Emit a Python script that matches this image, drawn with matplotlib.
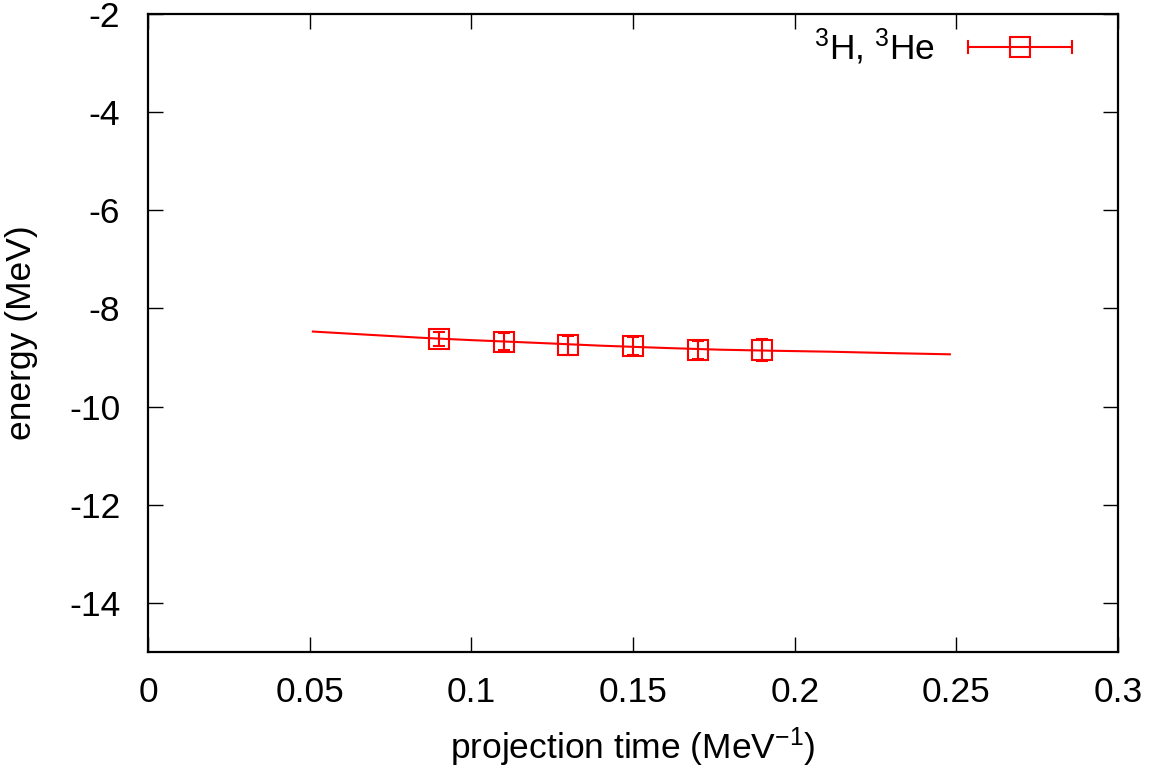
import numpy as np
import matplotlib
matplotlib.use('Agg')
import matplotlib.pyplot as plt

plt.rcParams['font.family'] = ['Liberation Sans', 'DejaVu Sans']
plt.rcParams['mathtext.default'] = 'regular'
plt.rcParams['axes.unicode_minus'] = False

# data points
tau = [0.09, 0.11, 0.13, 0.15, 0.17, 0.19]
energy = [-8.62, -8.68, -8.75, -8.77, -8.85, -8.85]
energy_err = [0.14, 0.17, 0.19, 0.18, 0.18, 0.23]

# fit curve
fit_tau = [0.051, 0.068, 0.084, 0.10, 0.12, 0.14, 0.16, 0.177, 0.194, 0.211, 0.23, 0.248]
fit_energy = [-8.47, -8.535, -8.595, -8.645, -8.70, -8.758, -8.805, -8.84, -8.862, -8.881, -8.91, -8.934]

red = '#ff0000'
fs = 25.5

fig = plt.figure(figsize=(11.5, 7.73), dpi=100)
ax = fig.add_axes([0.1287, 0.1565, 0.8435, 0.8254])

ax.plot(fit_tau, fit_energy, color=red, lw=1.5)
ax.errorbar(tau, energy, yerr=energy_err, fmt='s', color=red, mfc='none',
            mec=red, ms=15, mew=1.5, elinewidth=1.5, capsize=4, capthick=1.5)

ax.set_xlim(0, 0.3)
ax.set_ylim(-15, -2)
ax.set_xticks(np.arange(0, 0.31, 0.05))
ax.set_xticklabels(['0', '0.05', '0.1', '0.15', '0.2', '0.25', '0.3'])
ax.set_yticks(np.arange(-14, -1, 2))
ax.tick_params(direction='in', length=11, width=1, top=True, right=True,
               labelsize=fs)
ax.tick_params(axis='x', pad=17)
ax.tick_params(axis='y', pad=20)
for s in ax.spines.values():
    s.set_linewidth(1.6)

ax.set_xlabel('projection time (MeV$^{-1}$)', fontsize=fs, labelpad=12)
ax.set_ylabel('energy (MeV)', fontsize=fs, labelpad=22)

# legend key, gnuplot style
ly = 0.948
x0, x1, xc = 0.8454, 0.9526, 0.899
ax.text(0.8113, ly, '$^3$H, $^3$He', transform=ax.transAxes, ha='right',
        va='center', fontsize=fs)
ax.plot([x0, x1], [ly, ly], color=red, lw=1.5, transform=ax.transAxes)
for xe in (x0, x1):
    ax.plot([xe, xe], [ly - 0.0094, ly + 0.0094], color=red, lw=1.5,
            transform=ax.transAxes)
ax.plot([xc], [ly], marker='s', ms=15, mfc='none', mec=red, mew=1.5,
        transform=ax.transAxes)

fig.savefig('out.png', dpi=100)
